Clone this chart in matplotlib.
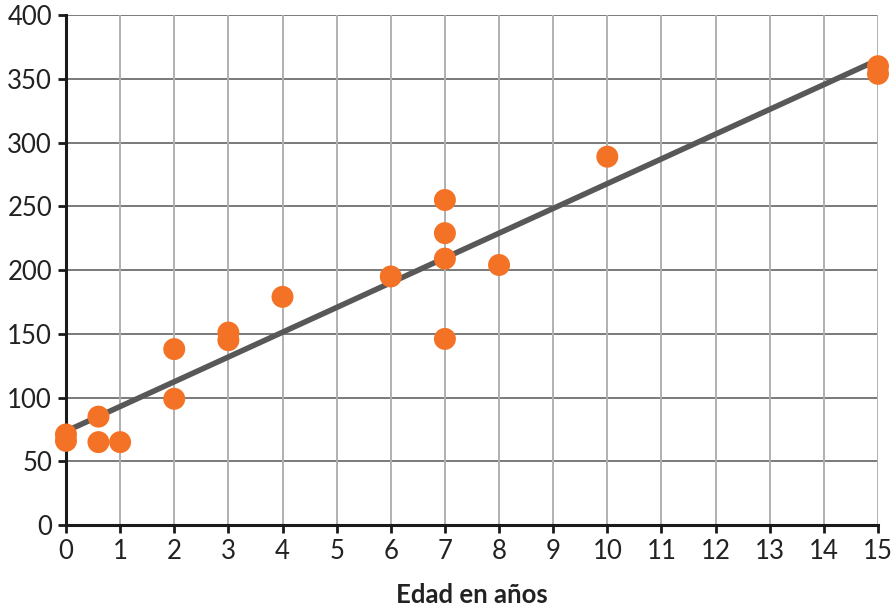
import numpy as np
import matplotlib
matplotlib.use('Agg')
import matplotlib.pyplot as plt

# Data
edad = [0, 0, 0.6, 0.6, 1, 2, 2, 3, 3, 4, 6, 7, 7, 7, 7, 8, 10, 15, 15]
valor = [71, 66, 85, 65, 65, 99, 138, 151, 145, 179, 195, 255, 229, 209, 146, 204, 289, 360, 354]
x_ticks = list(range(0, 16))
y_ticks = list(range(0, 401, 50))

plt.rcParams['font.family'] = ['Lato', 'DejaVu Sans']
plt.rcParams['font.size'] = 18.5

fig = plt.figure(figsize=(8.95, 6.09), dpi=100)
ax = fig.add_axes([0.0737, 0.138, 0.9073, 0.837])

# Linear trend line
slope, intercept = np.polyfit(edad, valor, 1)
line_x = np.array([0, 15])
ax.plot(line_x, slope * line_x + intercept, color='#585858', lw=4, zorder=3,
        solid_capstyle='butt')

ax.scatter(edad, valor, s=250, color='#F47225', edgecolors='none', zorder=4, clip_on=False)

ax.set_xlim(0, 15)
ax.set_ylim(0, 400)
ax.set_xticks(x_ticks)
ax.set_yticks(y_ticks)

# Grid: horizontal darker, vertical lighter
for y in y_ticks[1:]:
    ax.axhline(y, color='#7a7a7a', lw=1.4, zorder=1)
for x in x_ticks[1:]:
    ax.axvline(x, color='#b0b0b0', lw=1.4, zorder=1)

for s in ['top', 'right']:
    ax.spines[s].set_visible(False)
for s in ['left', 'bottom']:
    ax.spines[s].set_linewidth(2.2)
    ax.spines[s].set_color('#1a1a1a')
    ax.spines[s].set_zorder(2)

ax.tick_params(direction='out', length=6, width=2, color='#1a1a1a',
               labelsize=18.5, labelcolor='#222222', pad=4)

ax.set_xlabel('Edad en años', fontsize=18.5, fontweight='bold', color='#222222', labelpad=14)

plt.savefig('out.png', dpi=100)
